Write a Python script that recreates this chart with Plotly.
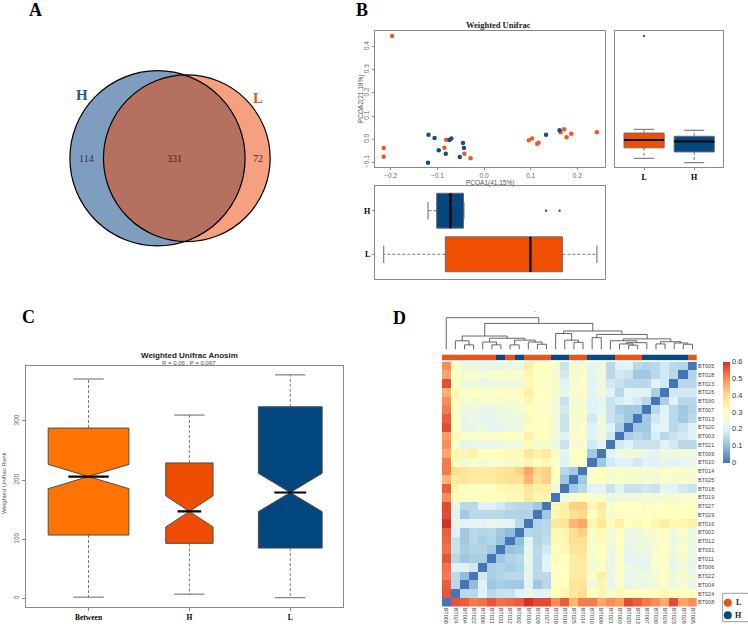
import numpy as np
import plotly.graph_objects as go

W, H = 748, 626

# ---------------- DATA ----------------
# A: Venn diagram counts
venn_sets = ["H", "L"]
venn_only_H = 114
venn_shared = 331
venn_only_L = 72

# B: PCoA (weighted UniFrac) coordinates per group
pcoa_L_x = [-0.197, -0.215, -0.215, -0.081, -0.085, -0.042, -0.029, 0.096, 0.103, 0.114, 0.117, 0.164, 0.172, 0.177, 0.187, 0.242]
pcoa_L_y = [0.445, -0.037, -0.075, -0.002, -0.036, -0.062, -0.082, -0.004, 0.004, -0.019, -0.015, 0.030, 0.043, 0.009, 0.024, 0.030]
pcoa_H_x = [-0.119, -0.106, -0.074, -0.070, -0.045, -0.043, -0.097, -0.082, -0.052, -0.120, 0.133, 0.162]
pcoa_H_y = [0.020, 0.006, -0.003, 0.003, -0.016, -0.037, -0.047, -0.062, -0.076, -0.101, 0.020, 0.039]
pcoa_x_ticks = [-0.2, -0.1, 0.0, 0.1, 0.2]
pcoa_y_ticks = [-0.1, 0.0, 0.1, 0.2, 0.3, 0.4]
pcoa_x_label = "PCOA1(41.15%)"
pcoa_y_label = "PCOA2(21.18%)"

# C: Anosim rank boxplot statistics
anosim_groups = ["Between", "H", "L"]
anosim_n = [192, 66, 120]
anosim_low = [2, 7, 1]
anosim_q1 = [107, 93, 85]
anosim_med = [206, 147, 179]
anosim_q3 = [288, 229, 324]
anosim_high = [371, 310, 378]
anosim_notch = [20.5, 26.3, 32.4]
anosim_ticks = [0, 100, 200, 300]

# D: distance heatmap (clustered order, left -> right)
samples = ["BT008", "BT024", "BT004", "BT022", "BT006", "BT011", "BT031", "BT012", "BT002", "BT016",
           "BT029", "BT027", "BT019", "BT018", "BT025", "BT014", "BT010", "BT009", "BT021", "BT003",
           "BT020", "BT013", "BT007", "BT030", "BT026", "BT023", "BT028", "BT005"]
groups = ["L", "L", "L", "L", "L", "L", "H", "L", "H", "L", "L", "L", "H", "H", "L", "L", "H", "H", "H", "L",
          "L", "L", "H", "H", "H", "H", "H", "L"]
dist_lower = [
    [],
    [0.56],
    [0.55, 0.15],
    [0.52, 0.15, 0.10],
    [0.53, 0.20, 0.20, 0.18],
    [0.56, 0.15, 0.12, 0.13, 0.13],
    [0.53, 0.17, 0.13, 0.14, 0.14, 0.12],
    [0.54, 0.17, 0.12, 0.15, 0.13, 0.14, 0.11],
    [0.55, 0.20, 0.12, 0.15, 0.14, 0.15, 0.12, 0.10],
    [0.60, 0.23, 0.20, 0.21, 0.21, 0.23, 0.22, 0.20, 0.15],
    [0.57, 0.20, 0.12, 0.15, 0.15, 0.15, 0.15, 0.14, 0.14, 0.14],
    [0.57, 0.22, 0.15, 0.15, 0.20, 0.20, 0.18, 0.16, 0.15, 0.15, 0.12],
    [0.50, 0.30, 0.30, 0.29, 0.30, 0.31, 0.30, 0.32, 0.32, 0.37, 0.33, 0.33],
    [0.55, 0.33, 0.30, 0.30, 0.29, 0.30, 0.32, 0.33, 0.33, 0.38, 0.35, 0.35, 0.25],
    [0.45, 0.37, 0.38, 0.36, 0.36, 0.36, 0.38, 0.40, 0.40, 0.45, 0.40, 0.42, 0.28, 0.12],
    [0.52, 0.40, 0.38, 0.37, 0.36, 0.37, 0.38, 0.39, 0.42, 0.47, 0.41, 0.42, 0.30, 0.15, 0.12],
    [0.52, 0.30, 0.25, 0.28, 0.26, 0.27, 0.27, 0.27, 0.28, 0.33, 0.30, 0.32, 0.28, 0.20, 0.28, 0.28],
    [0.47, 0.33, 0.33, 0.35, 0.30, 0.30, 0.30, 0.32, 0.32, 0.38, 0.35, 0.37, 0.28, 0.20, 0.30, 0.30, 0.12],
    [0.50, 0.28, 0.22, 0.23, 0.23, 0.23, 0.24, 0.25, 0.25, 0.31, 0.27, 0.28, 0.23, 0.17, 0.27, 0.27, 0.18, 0.20],
    [0.48, 0.32, 0.28, 0.29, 0.28, 0.28, 0.29, 0.30, 0.29, 0.35, 0.30, 0.30, 0.25, 0.20, 0.28, 0.28, 0.20, 0.25, 0.18],
    [0.57, 0.30, 0.22, 0.23, 0.24, 0.21, 0.22, 0.23, 0.24, 0.30, 0.29, 0.30, 0.25, 0.17, 0.27, 0.28, 0.20, 0.25, 0.20, 0.13],
    [0.55, 0.30, 0.23, 0.24, 0.22, 0.22, 0.24, 0.23, 0.24, 0.32, 0.29, 0.30, 0.25, 0.17, 0.27, 0.27, 0.18, 0.25, 0.17, 0.15, 0.12],
    [0.52, 0.30, 0.24, 0.25, 0.22, 0.22, 0.24, 0.25, 0.26, 0.30, 0.29, 0.28, 0.26, 0.18, 0.27, 0.28, 0.20, 0.22, 0.17, 0.13, 0.12, 0.12],
    [0.50, 0.30, 0.27, 0.26, 0.27, 0.28, 0.27, 0.27, 0.28, 0.33, 0.30, 0.29, 0.25, 0.17, 0.25, 0.27, 0.20, 0.22, 0.17, 0.19, 0.20, 0.18, 0.15],
    [0.46, 0.32, 0.28, 0.30, 0.29, 0.28, 0.30, 0.29, 0.30, 0.35, 0.30, 0.30, 0.27, 0.22, 0.28, 0.28, 0.22, 0.25, 0.20, 0.15, 0.21, 0.20, 0.20, 0.13],
    [0.57, 0.30, 0.24, 0.25, 0.23, 0.24, 0.25, 0.24, 0.25, 0.32, 0.30, 0.28, 0.27, 0.20, 0.27, 0.28, 0.20, 0.25, 0.18, 0.17, 0.15, 0.15, 0.15, 0.20, 0.18],
    [0.47, 0.30, 0.27, 0.28, 0.26, 0.27, 0.28, 0.27, 0.28, 0.33, 0.30, 0.30, 0.27, 0.18, 0.27, 0.28, 0.22, 0.25, 0.15, 0.18, 0.17, 0.12, 0.12, 0.15, 0.18, 0.15],
    [0.50, 0.30, 0.23, 0.24, 0.22, 0.23, 0.23, 0.24, 0.23, 0.35, 0.30, 0.30, 0.27, 0.17, 0.27, 0.27, 0.22, 0.25, 0.15, 0.20, 0.20, 0.15, 0.14, 0.15, 0.18, 0.15, 0.14],
]
# hierarchical clustering merges: (child_a, child_b, relative height); leaves are 0..27, merges 28..
linkage = [
    (2, 3, 0.14), (1, 28, 0.27), (5, 6, 0.14), (4, 30, 0.23), (7, 8, 0.14), (10, 11, 0.16),
    (9, 33, 0.23), (32, 34, 0.29), (31, 35, 0.35), (29, 36, 0.42),
    (14, 15, 0.22), (13, 38, 0.29), (12, 39, 0.50),
    (16, 17, 0.37), (20, 21, 0.13), (19, 42, 0.17), (22, 43, 0.21), (18, 44, 0.27),
    (23, 24, 0.17), (26, 27, 0.16), (25, 47, 0.20), (46, 48, 0.24), (45, 49, 0.33), (41, 50, 0.47),
    (40, 51, 0.58), (37, 52, 0.82), (0, 53, 1.00),
]
heat_ticks = [0, 0.1, 0.2, 0.3, 0.4, 0.5, 0.6]

# ---------------- STYLE ----------------
SERIF = "Liberation Serif"
SANS = "Liberation Sans"
C_L = "#EE5214"
C_H = "#0B4A7E"
PT_L = "#EA5A22"
PT_H = "#164E80"


def xd(a, b):
    return [a / W, b / W]


def yd(top, bottom):
    return [1 - bottom / H, 1 - top / H]


def pxx(x):
    return x / W


def pxy(y):
    return 1 - y / H


fig = go.Figure()
shapes = []
annotations = []

# ---------------- A: Venn ----------------
nH = venn_only_H + venn_shared
nL = venn_only_L + venn_shared
rH = np.sqrt(nH / np.pi)
rL = np.sqrt(nL / np.pi)


def lens(d, r1, r2):
    a1 = r1 ** 2 * np.arccos((d * d + r1 * r1 - r2 * r2) / (2 * d * r1))
    a2 = r2 ** 2 * np.arccos((d * d + r2 * r2 - r1 * r1) / (2 * d * r2))
    a3 = 0.5 * np.sqrt((-d + r1 + r2) * (d + r1 - r2) * (d - r1 + r2) * (d + r1 + r2))
    return a1 + a2 - a3


lo_, hi_ = abs(rH - rL) + 1e-9, rH + rL - 1e-9
for _ in range(200):
    mid = (lo_ + hi_) / 2
    if lens(mid, rH, rL) > venn_shared:
        lo_ = mid
    else:
        hi_ = mid
dc = (lo_ + hi_) / 2

cxp, cyp, rpx = 157.5, 158.3, 87.6
scale = rpx / rH
venn_x = dict(domain=xd(0, 370), range=[(0 - cxp) / scale, (370 - cxp) / scale], visible=False, anchor="y")
venn_y = dict(domain=yd(0, 300), range=[(cyp - 300) / scale, cyp / scale], visible=False, anchor="x")

shapes.append(dict(type="circle", xref="x", yref="y", x0=-rH, x1=rH, y0=-rH, y1=rH,
                   fillcolor="rgba(0,59,127,0.5)", line=dict(width=0), layer="above"))
shapes.append(dict(type="circle", xref="x", yref="y", x0=dc - rL, x1=dc + rL, y0=-rL, y1=rL,
                   fillcolor="rgba(235,67,0,0.5)", line=dict(width=0), layer="above"))
for (x0, x1, r) in [(-rH, rH, rH), (dc - rL, dc + rL, rL)]:
    shapes.append(dict(type="circle", xref="x", yref="y", x0=x0, x1=x1, y0=-r, y1=r,
                       fillcolor="rgba(0,0,0,0)", line=dict(width=1.2, color="black"), layer="above"))

venn_text = [
    (str(venn_only_H), (-rH + dc - rL) / 2, "#333333"),
    (str(venn_shared), (dc - rL + rH) / 2, "#3a2620"),
    (str(venn_only_L), (rH + dc + rL) / 2, "#333333"),
]
for t, x, col in venn_text:
    annotations.append(dict(text=t, x=x, y=0, xref="x", yref="y", showarrow=False,
                            font=dict(family=SERIF, size=10, color=col)))
ang_H, ang_L = np.radians(140), np.radians(40)
annotations.append(dict(text="<b>%s</b>" % venn_sets[0], x=1.12 * rH * np.cos(ang_H), y=1.12 * rH * np.sin(ang_H),
                        xref="x", yref="y", showarrow=False, font=dict(family=SERIF, size=15, color="#1D5A96")))
annotations.append(dict(text="<b>%s</b>" % venn_sets[1], x=dc + 1.12 * rL * np.cos(ang_L), y=1.12 * rL * np.sin(ang_L),
                        xref="x", yref="y", showarrow=False, font=dict(family=SERIF, size=15, color="#E8541C")))
fig.add_trace(go.Scatter(x=[0], y=[0], mode="markers", marker=dict(opacity=0), xaxis="x", yaxis="y",
                         hoverinfo="skip", showlegend=False))


# ---------------- helpers for boxplots ----------------
def fivenum_stats(vals):
    v = np.sort(np.asarray(vals, float))
    n = len(v)
    n4 = np.floor((n + 3) / 2) / 2
    d = np.array([1, n4, (n + 1) / 2, n + 1 - n4, n]) - 1
    f = 0.5 * (v[np.floor(d).astype(int)] + v[np.ceil(d).astype(int)])
    iqr = f[3] - f[1]
    ok = (v >= f[1] - 1.5 * iqr) & (v <= f[3] + 1.5 * iqr)
    return f[1], f[2], f[3], v[ok].min(), v[ok].max(), list(v[~ok])


def draw_box(xa, ya, pos, st, width, fill, horizontal=False, notch=None, notchwidth=0.5,
             cap_half=0.2, border="#6a6a6a"):
    q1, med, q3, lo, hi, outs = st
    kw = dict(q1=[q1], median=[med], q3=[q3], lowerfence=[q1], upperfence=[q3],
              width=width, fillcolor=fill, line=dict(color=border, width=1), whiskerwidth=0,
              boxpoints=False, xaxis=xa, yaxis=ya, hoverinfo="skip", showlegend=False)
    if notch is not None:
        kw.update(notched=True, notchspan=[notch], notchwidth=notchwidth)
    if horizontal:
        kw.update(y=[pos], orientation="h")
    else:
        kw.update(x=[pos], orientation="v")
    fig.add_trace(go.Box(**kw))
    mhalf = width / 2 * (1 - notchwidth) if notch is not None else width / 2
    parts = [
        ([pos, pos, None, pos, pos], [q3, hi, None, q1, lo], "3px,2px", 0.8, "#555555"),
        ([pos - cap_half, pos + cap_half, None, pos - cap_half, pos + cap_half], [hi, hi, None, lo, lo], "solid", 0.9, "#555555"),
        ([pos - mhalf, pos + mhalf], [med, med], "solid", 2.2, "black"),
    ]
    for a, b, dash, lw, col in parts:
        if horizontal:
            a, b = b, a
        fig.add_trace(go.Scatter(x=a, y=b, mode="lines", line=dict(color=col, width=lw, dash=dash),
                                 xaxis=xa, yaxis=ya, hoverinfo="skip", showlegend=False))
    if outs:
        op = [pos] * len(outs)
        ox, oy = (outs, op) if horizontal else (op, outs)
        fig.add_trace(go.Scatter(x=ox, y=oy, mode="markers", marker=dict(size=2.5, color="#555555"),
                                 xaxis=xa, yaxis=ya, hoverinfo="skip", showlegend=False))


# ---------------- B: PCoA ----------------
frame = dict(showline=True, mirror=True, linecolor="#8a8a8a", linewidth=1.2, showgrid=False, zeroline=False)
tickf = dict(family=SANS, size=6.5, color="#666666")
xr_b = [-0.2337, 0.26]
yr_b = [-0.1207, 0.467]

fig.add_trace(go.Scatter(x=pcoa_L_x, y=pcoa_L_y, mode="markers", marker=dict(size=4.5, color=PT_L),
                         xaxis="x2", yaxis="y2", hoverinfo="skip", showlegend=False))
fig.add_trace(go.Scatter(x=pcoa_H_x, y=pcoa_H_y, mode="markers", marker=dict(size=4.5, color=PT_H),
                         xaxis="x2", yaxis="y2", hoverinfo="skip", showlegend=False))

draw_box("x3", "y3", 1, fivenum_stats(pcoa_L_y), 0.8, "#F04E00", cap_half=0.2)
draw_box("x3", "y3", 2, fivenum_stats(pcoa_H_y), 0.8, "#05477F", cap_half=0.2)
draw_box("x4", "y4", 1, fivenum_stats(pcoa_L_x), 0.8, "#F04E00", horizontal=True, cap_half=0.2)
draw_box("x4", "y4", 2, fivenum_stats(pcoa_H_x), 0.8, "#05477F", horizontal=True, cap_half=0.2)


def fmt(v):
    s = "%.1f" % v
    return s.replace("-", "\u2212")


xaxis2 = dict(domain=xd(375, 605.3), range=xr_b, anchor="y2", ticks="outside", ticklen=2, tickcolor="#8a8a8a",
              tickvals=pcoa_x_ticks, ticktext=[fmt(v) for v in pcoa_x_ticks], tickfont=tickf, **frame)
yaxis2 = dict(domain=yd(31, 167.3), range=yr_b, anchor="x2", ticks="outside", ticklen=2, tickcolor="#8a8a8a",
              tickvals=pcoa_y_ticks, ticktext=[fmt(v) for v in pcoa_y_ticks], tickfont=tickf, tickangle=-90, **frame)
xaxis3 = dict(domain=xd(615, 723.3), range=[0.42, 2.58], anchor="y3", ticks="outside", ticklen=2, tickcolor="#8a8a8a",
              tickvals=[1, 2], ticktext=["<b>L</b>", "<b>H</b>"], tickfont=dict(family=SERIF, size=8, color="black"),
              **frame)
yaxis3 = dict(domain=yd(31, 167.3), range=yr_b, anchor="x3", showticklabels=False, ticks="", **frame)
xaxis4 = dict(domain=xd(375, 605.3), range=xr_b, anchor="y4", showticklabels=False, ticks="", **frame)
yaxis4 = dict(domain=yd(185.7, 279.3), range=[0.427, 2.573], anchor="x4", ticks="outside", ticklen=2,
              tickcolor="#8a8a8a", tickvals=[1, 2], ticktext=["<b>L</b>", "<b>H</b>"],
              tickfont=dict(family=SERIF, size=8, color="black"), **frame)

annotations.append(dict(text="<b>Weighted Unifrac</b>", x=pxx(498.3), y=pxy(25), xref="paper", yref="paper",
                        showarrow=False, font=dict(family=SERIF, size=8.5, color="#222222")))
annotations.append(dict(text=pcoa_x_label, x=pxx(490), y=pxy(182.5), xref="paper", yref="paper",
                        showarrow=False, font=dict(family=SANS, size=6.5, color="#555555")))
annotations.append(dict(text=pcoa_y_label, x=pxx(361), y=pxy(99), xref="paper", yref="paper", textangle=-90,
                        showarrow=False, font=dict(family=SANS, size=6.5, color="#555555")))

# ---------------- C: Anosim ----------------
box_cols = ["#FF7300", "#EE4D00", "#02467E"]
nmax = max(anosim_n)
for i, g in enumerate(anosim_groups):
    wdt = 0.8 * np.sqrt(anosim_n[i]) / np.sqrt(nmax)
    st = (anosim_q1[i], anosim_med[i], anosim_q3[i], anosim_low[i], anosim_high[i], [])
    draw_box("x5", "y5", i + 1, st, wdt, box_cols[i], notch=anosim_notch[i], notchwidth=0.5,
             cap_half=0.15, border="#4d4d4d")

xaxis5 = dict(domain=xd(26, 342.7), range=[0.38, 3.52], anchor="y5", ticks="outside", ticklen=3, tickcolor="#8a8a8a",
              tickvals=[1, 2, 3], ticktext=["<b>%s</b>" % g for g in anosim_groups],
              tickfont=dict(family=SERIF, size=7.5, color="black"), **frame)
yaxis5 = dict(domain=yd(366, 607.3), range=[-15.2, 393], anchor="x5", ticks="outside", ticklen=3, tickcolor="#8a8a8a",
              tickvals=anosim_ticks, ticktext=[str(v) for v in anosim_ticks], tickangle=-90, tickfont=tickf, **frame)
annotations.append(dict(text="<b>Weighted Unifrac Anosim</b>", x=pxx(189), y=pxy(355.5), xref="paper", yref="paper",
                        showarrow=False, font=dict(family=SANS, size=8, color="#222222")))
annotations.append(dict(text="R = 0.06 , P = 0.067", x=pxx(189), y=pxy(363), xref="paper", yref="paper",
                        showarrow=False, font=dict(family=SANS, size=6, color="#555555")))
annotations.append(dict(text="Weighted Unifrac Rank", x=pxx(4), y=pxy(483), xref="paper", yref="paper",
                        textangle=-90, showarrow=False, font=dict(family=SANS, size=6, color="#555555")))

# ---------------- D: heatmap ----------------
n = len(samples)
assert all(len(r) == i for i, r in enumerate(dist_lower))
D = np.zeros((n, n))
for i, row in enumerate(dist_lower):
    for j, v in enumerate(row):
        D[i, j] = v
        D[j, i] = v
cs = [[0, "#4575B4"], [1 / 6, "#91BFDB"], [2 / 6, "#E0F3F8"], [3 / 6, "#FFFFBF"],
      [4 / 6, "#FEE090"], [5 / 6, "#FC8D59"], [1, "#D73027"]]
idx = list(range(n))
fig.add_trace(go.Heatmap(z=D, x=idx, y=idx, colorscale=cs, zmin=0, zmax=float(D.max()), xaxis="x6", yaxis="y6",
                         hoverinfo="skip",
                         colorbar=dict(x=pxx(723), xanchor="left", y=pxy(361.5), yanchor="top", len=101,
                                       lenmode="pixels", thickness=6.5, thicknessmode="pixels", outlinewidth=0,
                                       xpad=0, ypad=0, tickvals=heat_ticks, ticktext=[("%g" % v) for v in heat_ticks],
                                       tickfont=dict(family=SANS, size=7.5, color="#333333"), ticks="")))
gcode = [1 if g == "L" else 0 for g in groups]
fig.add_trace(go.Heatmap(z=[gcode], x=idx, y=[0], colorscale=[[0, C_H], [0.5, C_H], [0.5, C_L], [1, C_L]],
                         zmin=0, zmax=1, showscale=False, xaxis="x7", yaxis="y7", hoverinfo="skip"))

pos = {i: float(i) for i in range(n)}
hts = {i: 0.0 for i in range(n)}
dx_, dy_ = [], []
for k, (a, b, h) in enumerate(linkage):
    nid = n + k
    dx_ += [pos[a], pos[a], pos[b], pos[b], None]
    dy_ += [hts[a], h, h, hts[b], None]
    pos[nid] = (pos[a] + pos[b]) / 2
    hts[nid] = h
fig.add_trace(go.Scatter(x=dx_, y=dy_, mode="lines", line=dict(color="#555555", width=0.9),
                         xaxis="x8", yaxis="y8", hoverinfo="skip", showlegend=False))

hm_dom = xd(441.7, 697)
lab_font = dict(family=SANS, size=5.5, color="#444444")
xaxis6 = dict(domain=hm_dom, range=[-0.5, n - 0.5], anchor="y6", tickvals=idx, ticktext=samples, tickangle=90,
              tickfont=lab_font, ticks="", showgrid=False, zeroline=False, showline=False)
yaxis6 = dict(domain=yd(361.7, 606.7), range=[-0.5, n - 0.5], anchor="x6", side="right", tickvals=idx,
              ticktext=samples, tickfont=lab_font, ticks="", showgrid=False, zeroline=False, showline=False)
xaxis7 = dict(domain=hm_dom, range=[-0.5, n - 0.5], anchor="y7", visible=False)
yaxis7 = dict(domain=yd(354.5, 360.3), range=[-0.5, 0.5], anchor="x7", visible=False)
ext = 1 / 31.6
xaxis8 = dict(domain=hm_dom, range=[-0.5, n - 0.5], anchor="y8", visible=False)
yaxis8 = dict(domain=yd(317.7 - 1, 349.3 + 1), range=[-ext, 1 + ext], anchor="x8", visible=False)
annotations.append(dict(text="-", x=pxx(535), y=pxy(311), xref="paper", yref="paper", showarrow=False,
                        font=dict(family=SANS, size=6, color="#666666")))

# group legend (L / H)
shapes.append(dict(type="rect", xref="paper", yref="paper", x0=pxx(722.7), x1=pxx(752), y0=pxy(621.7), y1=pxy(593.3),
                   line=dict(color="#9a9a9a", width=1), fillcolor="white"))
for lab, col, yy in [("L", C_L, 602.7), ("H", C_H, 615.3)]:
    shapes.append(dict(type="circle", xref="paper", yref="paper", xsizemode="pixel", ysizemode="pixel",
                       xanchor=pxx(727.8), yanchor=pxy(yy), x0=-4, x1=4, y0=-4, y1=4,
                       fillcolor=col, line=dict(width=0)))
    annotations.append(dict(text="<b>%s</b>" % lab, x=pxx(738.5), y=pxy(yy), xref="paper", yref="paper",
                            showarrow=False, font=dict(family=SERIF, size=8, color="#222222")))

# panel letters
for lab, x, y in [("A", 35, 10.5), ("B", 361.5, 10.5), ("C", 28.5, 317), ("D", 399, 317.5)]:
    annotations.append(dict(text="<b>%s</b>" % lab, x=pxx(x), y=pxy(y), xref="paper", yref="paper",
                            showarrow=False, font=dict(family=SERIF, size=18, color="black")))

for a in annotations:
    a.setdefault("xanchor", "center")
    a.setdefault("yanchor", "middle")

fig.update_layout(
    width=W, height=H, margin=dict(l=0, r=0, t=0, b=0, pad=0, autoexpand=False),
    paper_bgcolor="white", plot_bgcolor="rgba(0,0,0,0)",
    showlegend=False, hovermode=False, boxmode="overlay",
    xaxis=venn_x, yaxis=venn_y,
    xaxis2=xaxis2, yaxis2=yaxis2, xaxis3=xaxis3, yaxis3=yaxis3, xaxis4=xaxis4, yaxis4=yaxis4,
    xaxis5=xaxis5, yaxis5=yaxis5, xaxis6=xaxis6, yaxis6=yaxis6, xaxis7=xaxis7, yaxis7=yaxis7,
    xaxis8=xaxis8, yaxis8=yaxis8,
    shapes=shapes, annotations=annotations,
)
fig.write_html("out.html", config={"displayModeBar": False},
               post_script="document.body.style.margin='0px';")
